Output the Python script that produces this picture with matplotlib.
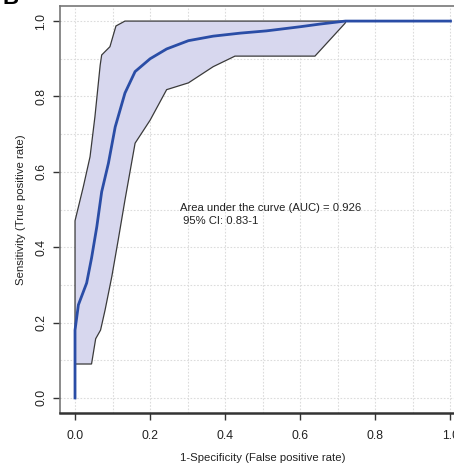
import matplotlib
matplotlib.use("Agg")
import matplotlib.pyplot as plt
import numpy as np

plt.rcParams['font.family'] = ['Liberation Sans', 'DejaVu Sans']

# ROC curve (1-specificity, sensitivity)
fpr = [0.0, 0.0, 0.009, 0.031, 0.044, 0.058, 0.071, 0.089, 0.107, 0.133, 0.160,
       0.2, 0.244, 0.302, 0.368, 0.44, 0.51, 0.6, 0.652, 0.72, 1.0]
tpr = [0.0, 0.18, 0.247, 0.305, 0.371, 0.454, 0.547, 0.623, 0.719, 0.809, 0.866,
       0.9, 0.926, 0.948, 0.96, 0.968, 0.974, 0.985, 0.992, 1.0, 1.0]

# 95% CI band
upper_x = [0.0, 0.0, 0.022, 0.04, 0.053, 0.067, 0.071, 0.093, 0.109, 0.133, 1.0]
upper_y = [0.09, 0.47, 0.56, 0.64, 0.746, 0.883, 0.91, 0.932, 0.987, 1.0, 1.0]
lower_x = [0.0, 0.044, 0.055, 0.068, 0.08, 0.098, 0.115, 0.133, 0.16, 0.2, 0.244,
           0.302, 0.368, 0.426, 0.639, 0.719, 0.722, 1.0]
lower_y = [0.09, 0.09, 0.157, 0.18, 0.233, 0.322, 0.419, 0.525, 0.676, 0.737, 0.818,
           0.836, 0.879, 0.907, 0.907, 0.994, 1.0, 1.0]

auc_text = "Area under the curve (AUC) = 0.926\n 95% CI: 0.83-1"

fig = plt.figure(figsize=(4.54, 4.66), dpi=100)
ax = fig.add_axes([60/454, 53/466, 405.5/454, 407/466])

# grid
for g in np.arange(0, 1.01, 0.1):
    ax.axvline(g, color='#dcdcdc', lw=0.8, ls=(0, (1.5, 1.5)), zorder=0)
    ax.axhline(g, color='#dcdcdc', lw=0.8, ls=(0, (1.5, 1.5)), zorder=0)

# band polygon
poly_x = upper_x + lower_x[::-1]
poly_y = upper_y + lower_y[::-1]
ax.fill(poly_x, poly_y, facecolor='#d7d7ee', edgecolor='#3a3a3a', lw=0.9, zorder=2)

ax.plot(fpr, tpr, color='#2a4da6', lw=2, zorder=3)

ax.text(0.28, 0.487, auc_text, fontsize=8.1, color='#222222', ha='left', va='center',
        linespacing=1.3, zorder=4)

ax.set_xlim(-0.04, 1.04)
ax.set_ylim(-0.04, 1.04)
ax.set_xticks([0, 0.2, 0.4, 0.6, 0.8, 1.0])
ax.set_yticks([0, 0.2, 0.4, 0.6, 0.8, 1.0])
ax.set_xticklabels(['0.0', '0.2', '0.4', '0.6', '0.8', '1.0'])
ax.set_yticklabels(['0.0', '0.2', '0.4', '0.6', '0.8', '1.0'], rotation=90, va='center')
ax.tick_params(axis='both', direction='out', length=5, width=1, color='#333333',
               labelsize=8.8, labelcolor='#222222')
ax.tick_params(axis='x', pad=7)
ax.tick_params(axis='y', pad=4)

for s in ['left', 'top', 'right']:
    ax.spines[s].set_color('#777777')
    ax.spines[s].set_linewidth(1.2)
ax.spines['bottom'].set_color('#333333')
ax.spines['bottom'].set_linewidth(1.8)

ax.set_xlabel("1-Specificity (False positive rate)", fontsize=8.2, color='#222222', labelpad=8)
ax.set_ylabel("Sensitivity (True positive rate)", fontsize=8.2, color='#222222', labelpad=7)

fig.text(0.005, 1 - 4/466, "B", fontsize=16, fontweight='bold', ha='left', va='baseline')

fig.savefig("out.png", dpi=100)
